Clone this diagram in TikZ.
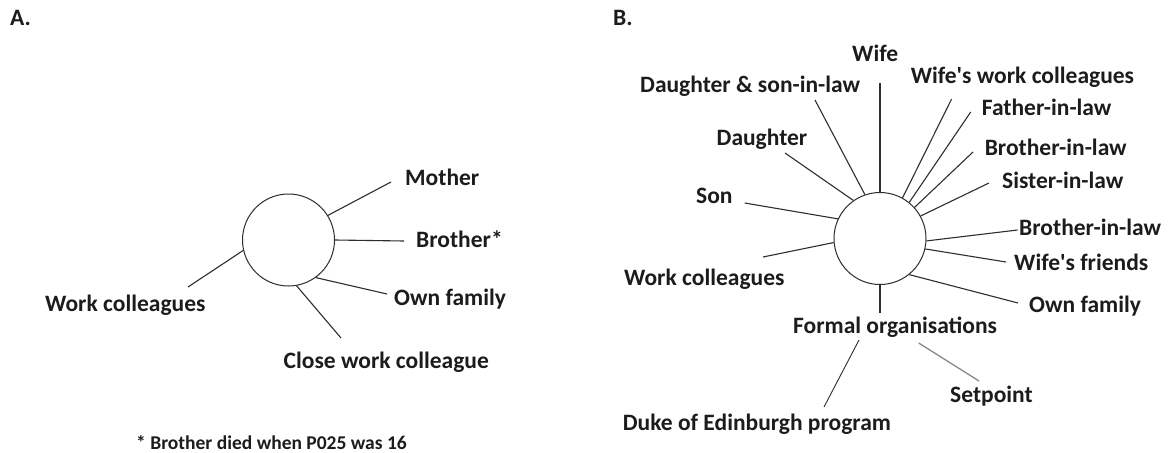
\documentclass[tikz,border=0pt]{standalone}
\usepackage{fontspec}
\setmainfont{Carlito}
\definecolor{ink}{HTML}{1C1C1C}
\definecolor{spoke}{HTML}{2E2E2E}
\definecolor{faint}{HTML}{8A8A8A}
\begin{document}
\begin{tikzpicture}[x=1pt,y=-1pt,
  lbl/.style={anchor=base west,inner sep=0pt,text=ink,font=\bfseries\fontsize{23.5}{28}\selectfont},
  note/.style={anchor=base west,inner sep=0pt,text=ink,font=\bfseries\fontsize{19.5}{23}\selectfont},
  ego/.style={circle,draw=spoke,line width=1pt,minimum size=92pt,inner sep=0pt},
  tie/.style={draw=spoke,line width=1.1pt},
  weaktie/.style={draw=faint,line width=1.3pt}]
\useasboundingbox[fill=white] (0,0) rectangle (1174,452);

% ---------------- panel A ----------------
\node[lbl] (tagA) at (10,26) {A.};
\node[ego] (cA) at (288.5,240) {};

\node[lbl] (mother)  at (405,185)   {Mother};
\node[lbl] (brother) at (416,247)   {Brother*};
\node[lbl] (ownA)    at (394,305)   {Own family};
\node[lbl] (close)   at (283.5,368) {Close work colleague};
\node[lbl] (workA)   at (45,311.5)  {Work colleagues};
\node[note] (foot)   at (136,449.3) {* Brother died when P025 was 16};

\coordinate (eMother)  at (391,182);
\coordinate (eBrother) at (404,241);
\coordinate (eOwnA)    at (387,294);
\coordinate (eClose)   at (341,338);
\coordinate (eWorkA)   at (188,287);

\draw[tie] (cA.32)  -- (eMother);
\draw[tie] (cA.0)   -- (eBrother);
\draw[tie] (cA.-54) -- (eOwnA);
\draw[tie] (cA.-80) -- (eClose);
\draw[tie] (cA.193) -- (eWorkA);

% ---------------- panel B ----------------
\node[lbl] (tagB) at (613,26) {B.};
\node[ego] (cB) at (880,238.5) {};

\node[lbl] (wife)    at (852,62)    {Wife};
\node[lbl] (dsil)    at (640,92)    {Daughter \& son-in-law};
\node[lbl] (wwc)     at (910.6,83)  {Wife\textquotesingle s work colleagues};
\node[lbl] (fil)     at (981.7,115) {Father-in-law};
\node[lbl] (bilone)  at (984.6,155) {Brother-in-law};
\node[lbl] (sil)     at (1002,188)  {Sister-in-law};
\node[lbl] (biltwo)  at (1019,235)  {Brother-in-law};
\node[lbl] (wfr)     at (1014,270)  {Wife\textquotesingle s friends};
\node[lbl] (ownB)    at (1029,312)  {Own family};
\node[lbl] (formal)  at (793,333)   {Formal organisations};
\node[lbl] (setp)    at (950,402)   {Setpoint};
\node[lbl] (duke)    at (622.7,430) {Duke of Edinburgh program};
\node[lbl] (son)     at (696,203)   {Son};
\node[lbl] (daught)  at (716.5,145) {Daughter};
\node[lbl] (workB)   at (624,285)   {Work colleagues};

\coordinate (eWife)   at (880,83);
\coordinate (eDsil)   at (815,100);
\coordinate (eWwc)    at (951.6,99);
\coordinate (eFil)    at (970.7,112);
\coordinate (eBilone) at (973,152);
\coordinate (eSil)    at (989,183);
\coordinate (eBiltwo) at (1017.6,230);
\coordinate (eWfr)    at (1006,262);
\coordinate (eOwnB)   at (1018,303);
\coordinate (eFormal) at (880,313);
\coordinate (eSon)    at (744.7,203);
\coordinate (eDaught) at (785,153);
\coordinate (eWorkB)  at (763,257);
% ties hanging below the formal organisations label
\coordinate (sA) at (918.7,343);
\coordinate (sB) at (979,381);
\coordinate (dA) at (859,340);
\coordinate (dB) at (824,407);

\draw[tie] (cB.90)    -- (eWife);
\draw[tie] (cB.109)   -- (eDsil);
\draw[tie] (cB.61)    -- (eWwc);
\draw[tie] (cB.51)    -- (eFil);
\draw[tie] (cB.42)    -- (eBilone);
\draw[tie] (cB.29.5)  -- (eSil);
\draw[tie] (cB.-3)    -- (eBiltwo);
\draw[tie] (cB.-13.7) -- (eWfr);
\draw[tie] (cB.-51)   -- (eOwnB);
\draw[tie] (cB.-90)   -- (eFormal);
\draw[tie] (cB.155.6) -- (eSon);
\draw[tie] (cB.125.3) -- (eDaught);
\draw[tie] (cB.185.6) -- (eWorkB);
\draw[weaktie] (sA) -- (sB);
\draw[tie,line width=0.9pt] (dA) -- (dB);
\end{tikzpicture}
\end{document}
